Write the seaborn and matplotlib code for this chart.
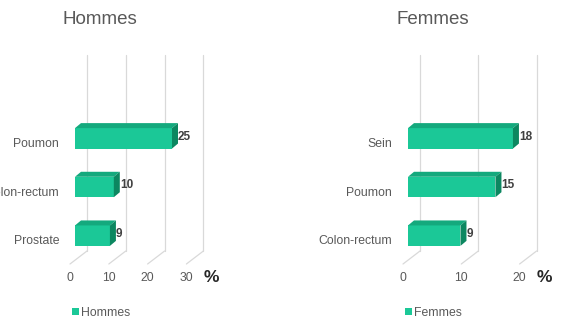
import numpy as np
import pandas as pd
import matplotlib
matplotlib.use("Agg")
import matplotlib.pyplot as plt
import matplotlib.transforms as mtrans
from matplotlib.patches import Polygon, Patch
import seaborn as sns

# Data: share of cancers by sex (%)
hommes_sites = ["Poumon", "Colon-rectum", "Prostate"]
hommes_vals = [25, 10, 9]
hommes_ticks = [0, 10, 20, 30]

femmes_sites = ["Sein", "Poumon", "Colon-rectum"]
femmes_vals = [18, 15, 9]
femmes_ticks = [0, 10, 20]

FRONT = "#1BC897"
TOP = "#14A97D"
SIDE = "#0C8760"
GRID = "#D9D9D9"
TXT = "#595959"

sns.set_theme(style="white")
plt.rcParams["font.family"] = ["Liberation Sans", "DejaVu Sans"]

W, H = 570, 324
DPI = 100
fig = plt.figure(figsize=(W / DPI, H / DPI), dpi=DPI)
fig.patch.set_facecolor("white")

# 3D depth offsets in pixels
BAR_DX, BAR_DY = 6, 5          # bar depth
WALL_DX, WALL_DY = 12, 9       # back wall relative to bar front
FLOOR_DX, FLOOR_DY = -5, -4    # floor front relative to bar front
IDENT = mtrans.IdentityTransform()


def px_rect(x0_px, y_top_px, w_px, h_px):
    return [x0_px / W, 1 - (y_top_px + h_px) / H, w_px / W, h_px / H]


def panel(sites, vals, ticks, title, x0_px, px_per_unit, title_x):
    xmax = ticks[-1]
    ax = fig.add_axes(px_rect(x0_px, 114, px_per_unit * xmax, 146))
    ax.patch.set_alpha(0)
    df = pd.DataFrame({"site": sites, "val": vals})
    sns.barplot(data=df, x="val", y="site", orient="h", color=FRONT,
                width=0.42, saturation=1, ax=ax, zorder=3,
                edgecolor="none")
    ax.set_xlim(0, xmax)
    ax.set_ylim(2.5, -0.5)
    ax.set_xlabel("")
    ax.set_ylabel("")
    for s in ax.spines.values():
        s.set_visible(False)
    ax.set_xticks([])
    ax.tick_params(axis="y", length=0, pad=11.5, labelsize=8.8, labelcolor=TXT)
    shift = mtrans.ScaledTranslation(0, -4 / DPI, fig.dpi_scale_trans)
    for lab in ax.get_yticklabels():
        lab.set_transform(lab.get_transform() + shift)

    fig.canvas.draw()
    T = ax.transData

    def disp(x, y, dx=0, dy=0):
        px, py = T.transform((x, y))
        return (px + dx, py + dy)

    # back wall gridlines and floor lines, behind the bars
    y_floor = 2.5
    y_top_px = H - 55
    for t in ticks:
        bx, by = disp(t, y_floor, WALL_DX, WALL_DY)
        ax.add_line(plt.Line2D([bx, bx], [by, y_top_px], color=GRID,
                               lw=0.9, transform=IDENT, zorder=1,
                               clip_on=False))
        fx, fy = disp(t, y_floor, FLOOR_DX, FLOOR_DY)
        ax.add_line(plt.Line2D([fx, bx], [fy, by], color=GRID,
                               lw=0.9, transform=IDENT, zorder=1,
                               clip_on=False))
        fig.text(fx / W, (fy - 14) / H, str(t), ha="center", va="center",
                 fontsize=8.7, color=TXT)
    lx, ly = disp(ticks[-1], y_floor, FLOOR_DX, FLOOR_DY)
    fig.text((lx + 25) / W, (ly - 14) / H, "%", ha="center", va="center",
             fontsize=12.5, fontweight="bold", color="#262626")

    # top and side faces of each bar
    for i, v in enumerate(vals):
        top = i - 0.21
        bot = i + 0.21
        a = disp(0, top)
        b = disp(v, top)
        c = disp(v, bot)
        top_face = [a, b, (b[0] + BAR_DX, b[1] + BAR_DY), (a[0] + BAR_DX, a[1] + BAR_DY)]
        side_face = [b, c, (c[0] + BAR_DX, c[1] + BAR_DY), (b[0] + BAR_DX, b[1] + BAR_DY)]
        ax.add_patch(Polygon(top_face, closed=True, facecolor=TOP,
                             edgecolor="none", transform=IDENT, zorder=4,
                             clip_on=False))
        ax.add_patch(Polygon(side_face, closed=True, facecolor=SIDE,
                             edgecolor="none", transform=IDENT, zorder=4,
                             clip_on=False))
        ax.annotate(f"{v}", xy=(v, i), xytext=(BAR_DX, 1.5),
                    textcoords="offset pixels", ha="left", va="center",
                    fontsize=8.5, fontweight="bold", color="#404040",
                    annotation_clip=False, zorder=5)

    fig.text(title_x / W, 1 - 20 / H, title, ha="center", va="center",
             fontsize=13.5, color=TXT)
    fig.legend(handles=[Patch(facecolor=FRONT, edgecolor="none", label=title)],
               loc="center left", bbox_to_anchor=((x0_px - 14) / W, 1 - 313 / H),
               frameon=False, fontsize=8.8, handlelength=0.55, handleheight=0.55,
               handletextpad=0.2, labelcolor=TXT)
    return ax


panel(hommes_sites, hommes_vals, hommes_ticks, "Hommes", 75, 3.88, 100)
panel(femmes_sites, femmes_vals, femmes_ticks, "Femmes", 408, 5.83, 433)

fig.savefig("out.png", dpi=DPI)
